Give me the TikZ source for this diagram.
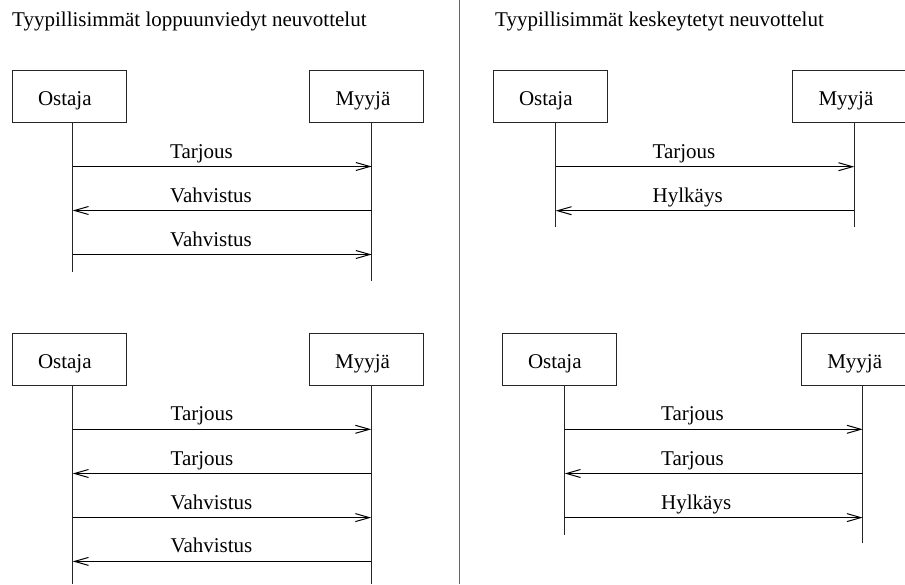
\documentclass[tikz,border=0pt]{standalone}
\usepackage{fontspec}
\setmainfont{Liberation Serif}
\usetikzlibrary{arrows.meta}
\definecolor{linec}{gray}{0.15}
\definecolor{divc}{gray}{0.4}
\begin{document}
\begin{tikzpicture}[x=1pt,y=-1pt,font=\fontsize{21}{25}\selectfont]
\tikzset{
  actor/.style={draw=linec, line width=1pt, minimum height=52.5pt, text width=62pt,
    inner xsep=26pt, inner ysep=0pt, align=left, text height=18pt, text depth=0pt,
    anchor=north west, outer sep=0pt},
  life/.style={draw=linec, line width=1pt},
  msg/.style={draw=black, line width=1pt,
    -{Straight Barb[length=14pt,width=8pt,line width=1pt]}},
  msglabel/.style={anchor=base west, inner sep=0pt},
  heading/.style={anchor=base west, inner sep=0pt},
  divider/.style={draw=divc, line width=1pt}
}
\useasboundingbox (0,0) rectangle (905,584);

% headings and the separating line
\node[heading] (h1) at (12,26) {Tyypillisimmät loppuunviedyt neuvottelut};
\node[heading] (h2) at (495,26) {Tyypillisimmät keskeytetyt neuvottelut};
\coordinate (dtop) at (459.3,0);
\coordinate (dbot) at (459.3,584);
\draw[divider] (dtop) -- (dbot);

% ---- completed negotiation, upper ----
\node[actor] (o1) at (12,70) {Ostaja};
\node[actor] (s1) at (309.5,70) {Myyjä};
\coordinate (o1end) at (72.7,271.7);
\coordinate (s1end) at (371.7,280.7);
\draw[life] (o1.south -| o1end) -- (o1end);
\draw[life] (s1.south -| s1end) -- (s1end);
\coordinate (a1o) at (72.7,166.5);  \coordinate (a1s) at (371.7,166.5);
\coordinate (a2o) at (72.7,210.5);  \coordinate (a2s) at (371.7,210.5);
\coordinate (a3o) at (72.7,254.5);  \coordinate (a3s) at (371.7,254.5);
\draw[msg] (a1o) -- (a1s);
\draw[msg] (a2s) -- (a2o);
\draw[msg] (a3o) -- (a3s);
\node[msglabel] (a1l) at (170,158) {Tarjous};
\node[msglabel] (a2l) at (170,202) {Vahvistus};
\node[msglabel] (a3l) at (170,246) {Vahvistus};

% ---- completed negotiation, lower ----
\node[actor] (o2) at (12,333.3) {Ostaja};
\node[actor] (s2) at (309.2,333.3) {Myyjä};
\coordinate (o2end) at (72.7,584);
\coordinate (s2end) at (371.2,584);
\draw[life] (o2.south -| o2end) -- (o2end);
\draw[life] (s2.south -| s2end) -- (s2end);
\coordinate (b1o) at (72.7,429.3);  \coordinate (b1s) at (371.2,429.3);
\coordinate (b2o) at (72.7,473.5);  \coordinate (b2s) at (371.2,473.5);
\coordinate (b3o) at (72.7,517.6);  \coordinate (b3s) at (371.2,517.6);
\coordinate (b4o) at (72.7,561.4);  \coordinate (b4s) at (371.2,561.4);
\draw[msg] (b1o) -- (b1s);
\draw[msg] (b2s) -- (b2o);
\draw[msg] (b3o) -- (b3s);
\draw[msg] (b4s) -- (b4o);
\node[msglabel] (b1l) at (170.5,420.8) {Tarjous};
\node[msglabel] (b2l) at (170.5,465) {Tarjous};
\node[msglabel] (b3l) at (170.5,509.1) {Vahvistus};
\node[msglabel] (b4l) at (170.5,552.9) {Vahvistus};

% ---- interrupted negotiation, upper ----
\node[actor] (o3) at (493,70) {Ostaja};
\node[actor] (s3) at (792.5,70) {Myyjä};
\coordinate (o3end) at (555.7,226.7);
\coordinate (s3end) at (854.3,226.7);
\draw[life] (o3.south -| o3end) -- (o3end);
\draw[life] (s3.south -| s3end) -- (s3end);
\coordinate (c1o) at (555.7,166.7);  \coordinate (c1s) at (854.3,166.7);
\coordinate (c2o) at (555.7,210.7);  \coordinate (c2s) at (854.3,210.7);
\draw[msg] (c1o) -- (c1s);
\draw[msg] (c2s) -- (c2o);
\node[msglabel] (c1l) at (652.5,158.2) {Tarjous};
\node[msglabel] (c2l) at (652.5,202.2) {Hylkäys};

% ---- interrupted negotiation, lower ----
\node[actor] (o4) at (502,333.3) {Ostaja};
\node[actor] (s4) at (801.3,333.3) {Myyjä};
\coordinate (o4end) at (564.7,535);
\coordinate (s4end) at (862.7,543.3);
\draw[life] (o4.south -| o4end) -- (o4end);
\draw[life] (s4.south -| s4end) -- (s4end);
\coordinate (d1o) at (564.7,429.3);  \coordinate (d1s) at (862.7,429.3);
\coordinate (d2o) at (564.7,473.5);  \coordinate (d2s) at (862.7,473.5);
\coordinate (d3o) at (564.7,517.6);  \coordinate (d3s) at (862.7,517.6);
\draw[msg] (d1o) -- (d1s);
\draw[msg] (d2s) -- (d2o);
\draw[msg] (d3o) -- (d3s);
\node[msglabel] (d1l) at (661,420.8) {Tarjous};
\node[msglabel] (d2l) at (661,465) {Tarjous};
\node[msglabel] (d3l) at (661,509.1) {Hylkäys};
\end{tikzpicture}
\end{document}
